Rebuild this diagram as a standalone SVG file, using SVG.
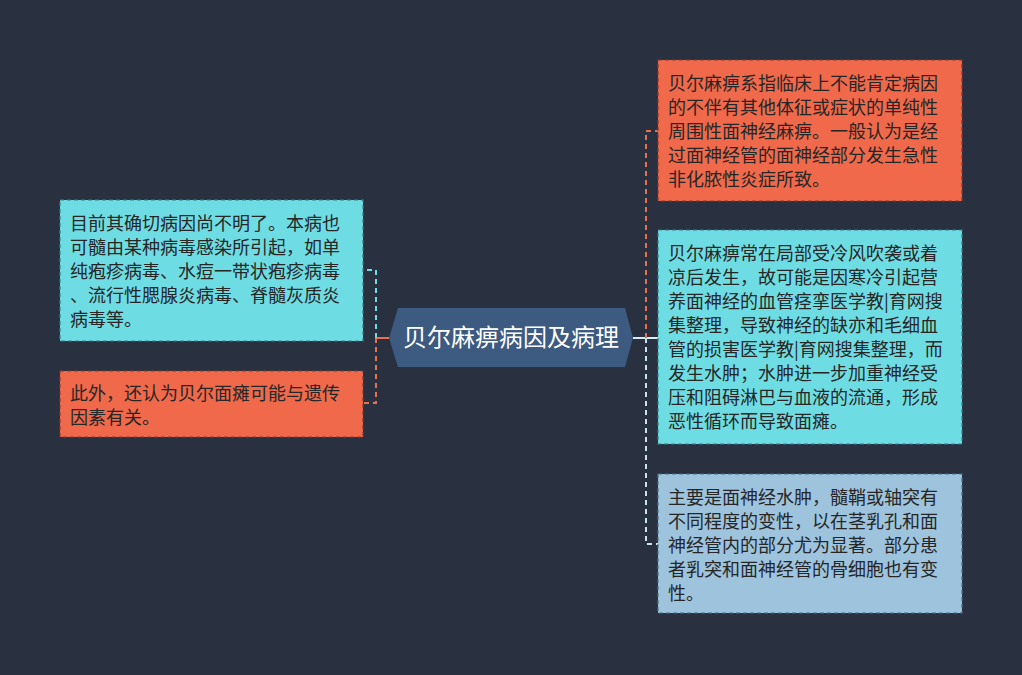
<svg xmlns="http://www.w3.org/2000/svg" width="1022" height="675" viewBox="0 0 1022 675">
<style>
.t{font-family:"Noto Sans CJK SC","Noto Sans",sans-serif;font-size:18px;fill:#262626}
.c{font-family:"Noto Sans CJK SC","Noto Sans",sans-serif;font-size:24px;fill:#ffffff}
.box{stroke-width:1.2;stroke-dasharray:4 3}
.o{fill:#f0694a;stroke:#8a3a2a}
.cy{fill:#6edde3;stroke:#3a7f85}
.lb{fill:#9dc3dd;stroke:#4f6f85}
.ln{fill:none;stroke-width:2;stroke-dasharray:5 4}
</style>
<rect width="1022" height="675" fill="#293140"/>
<g id="connectors">
<line x1="389" y1="338" x2="376" y2="338" stroke="#e8704f" stroke-width="2"/>
<path class="ln" d="M376 338 V270 H363" stroke="#6edde3"/>
<path class="ln" d="M376 338 V403 H363" stroke="#e8704f"/>
<line x1="633" y1="338" x2="658" y2="338" stroke="#d8eef3" stroke-width="2"/>
<path class="ln" d="M646 338 V131 H658" stroke="#e8704f"/>
<path class="ln" d="M646 338 V544 H658" stroke="#c9e2f0"/>
</g>
<g id="center">
<polygon points="389,338 398,308 625,308 633,338 625,367 398,367" fill="#3d5a80"/>
<text class="c" x="511" y="346" text-anchor="middle">贝尔麻痹病因及病理</text>
</g>
<g id="r1">
<rect class="box o" x="658" y="60" width="304" height="141"/>
<text class="t" x="668" y="90"><tspan x="668">贝尔麻痹系指临床上不能肯定病因</tspan><tspan x="668" dy="24">的不伴有其他体征或症状的单纯性</tspan><tspan x="668" dy="24">周围性面神经麻痹。一般认为是经</tspan><tspan x="668" dy="24">过面神经管的面神经部分发生急性</tspan><tspan x="668" dy="24">非化脓性炎症所致。</tspan></text>
</g>
<g id="r2">
<rect class="box cy" x="658" y="230" width="304" height="214"/>
<text class="t" x="668" y="260"><tspan x="668">贝尔麻痹常在局部受冷风吹袭或着</tspan><tspan x="668" dy="24">凉后发生，故可能是因寒冷引起营</tspan><tspan x="668" dy="24">养面神经的血管痉挛医学教|育网搜</tspan><tspan x="668" dy="24">集整理，导致神经的缺亦和毛细血</tspan><tspan x="668" dy="24">管的损害医学教|育网搜集整理，而</tspan><tspan x="668" dy="24">发生水肿；水肿进一步加重神经受</tspan><tspan x="668" dy="24">压和阻碍淋巴与血液的流通，形成</tspan><tspan x="668" dy="24">恶性循环而导致面瘫。</tspan></text>
</g>
<g id="r3">
<rect class="box lb" x="658" y="474" width="304" height="139"/>
<text class="t" x="668" y="504"><tspan x="668">主要是面神经水肿，髓鞘或轴突有</tspan><tspan x="668" dy="24">不同程度的变性，以在茎乳孔和面</tspan><tspan x="668" dy="24">神经管内的部分尤为显著。部分患</tspan><tspan x="668" dy="24">者乳突和面神经管的骨细胞也有变</tspan><tspan x="668" dy="24">性。</tspan></text>
</g>
<g id="l1">
<rect class="box cy" x="60" y="200" width="303" height="141"/>
<text class="t" x="70" y="230"><tspan x="70">目前其确切病因尚不明了。本病也</tspan><tspan x="70" dy="24">可髓由某种病毒感染所引起，如单</tspan><tspan x="70" dy="24">纯疱疹病毒、水痘一带状疱疹病毒</tspan><tspan x="70" dy="24">、流行性腮腺炎病毒、脊髓灰质炎</tspan><tspan x="70" dy="24">病毒等。</tspan></text>
</g>
<g id="l2">
<rect class="box o" x="60" y="371" width="303" height="66"/>
<text class="t" x="70" y="400"><tspan x="70">此外，还认为贝尔面瘫可能与遗传</tspan><tspan x="70" dy="24">因素有关。</tspan></text>
</g>
</svg>
